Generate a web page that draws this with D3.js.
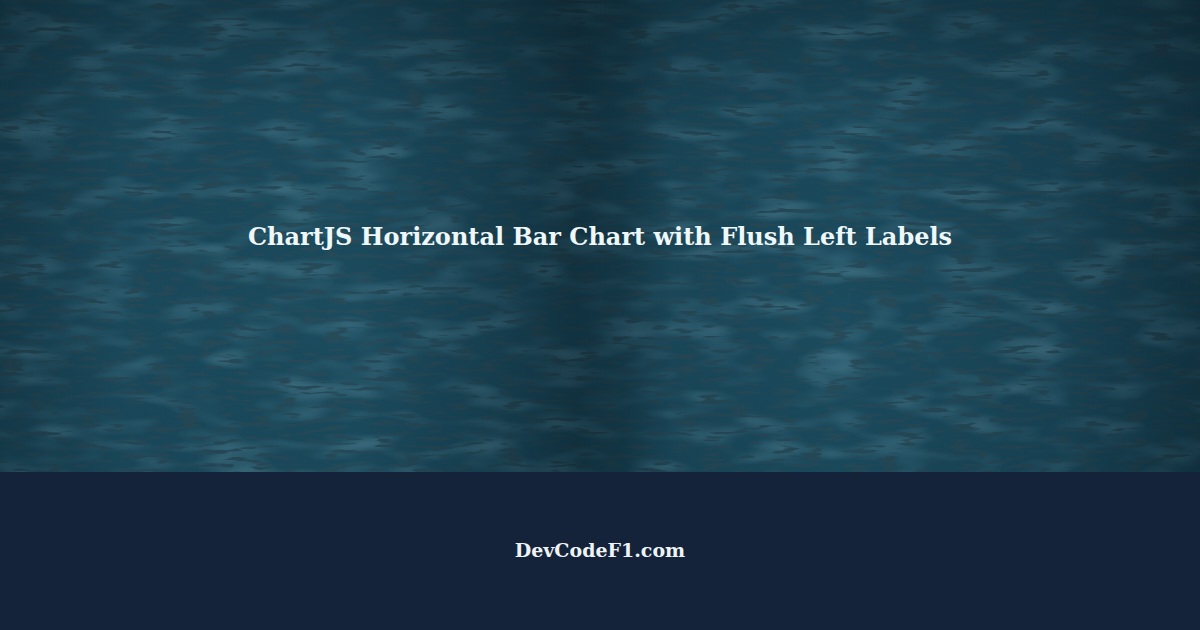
<!DOCTYPE html>
<html>
<head>
<meta charset="utf-8">
<script src="https://cdn.jsdelivr.net/npm/d3@7"></script>
<style>
  html, body { margin: 0; padding: 0; background: #15233a; }
  svg { display: block; }
</style>
</head>
<body>
<svg id="banner"></svg>
<script>
// Texts shown on the card
const titleLines = ["ChartJS Horizontal Bar Chart with Flush Left Labels"];
const footerLines = ["DevCodeF1.com"];

// Window dimensions
const width = 1200;
const height = 630;
const splitY = 472; // where the picture stops and the footer band begins

const svg = d3.select("#banner")
    .attr("width", width)
    .attr("height", height);

const defs = svg.append("defs");

// short dark horizontal dashes (the "fabric" texture)
const noise = defs.append("filter")
    .attr("id", "streaks")
    .attr("x", 0).attr("y", 0)
    .attr("width", "100%").attr("height", "100%");
noise.append("feTurbulence")
    .attr("type", "fractalNoise")
    .attr("baseFrequency", "0.04 0.22")
    .attr("numOctaves", 2)
    .attr("seed", 11)
    .attr("result", "t");
noise.append("feColorMatrix")
    .attr("in", "t")
    .attr("type", "matrix")
    .attr("values", "0 0 0 0 0.02  0 0 0 0 0.07  0 0 0 0 0.10  -8 0 0 0 3.7");

// soft lighter blotches
const speck = defs.append("filter")
    .attr("id", "speck")
    .attr("x", 0).attr("y", 0)
    .attr("width", "100%").attr("height", "100%");
speck.append("feTurbulence")
    .attr("type", "fractalNoise")
    .attr("baseFrequency", "0.015 0.05")
    .attr("numOctaves", 2)
    .attr("seed", 3)
    .attr("result", "t");
speck.append("feColorMatrix")
    .attr("in", "t")
    .attr("type", "matrix")
    .attr("values", "0 0 0 0 0.14  0 0 0 0 0.33  0 0 0 0 0.42  1.0 0 0 0 -0.45");

// horizontal shading: darker seam in the middle, darker edges
const shade = defs.append("linearGradient")
    .attr("id", "shadeX")
    .attr("x1", 0).attr("x2", 1).attr("y1", 0).attr("y2", 0);
[
  [0.00, 0.30], [0.10, 0.05], [0.30, 0.0], [0.42, 0.25],
  [0.48, 0.45], [0.52, 0.35], [0.56, 0.10], [0.70, 0.0], [0.88, 0.15], [1.00, 0.45]
].forEach(([o, a]) => shade.append("stop")
    .attr("offset", o).attr("stop-color", "#04121a").attr("stop-opacity", a));

const shadeY = defs.append("linearGradient")
    .attr("id", "shadeY")
    .attr("x1", 0).attr("x2", 0).attr("y1", 0).attr("y2", 1);
[[0, 0.30], [0.25, 0.05], [0.7, 0.0], [1, 0.05]]
    .forEach(([o, a]) => shadeY.append("stop")
        .attr("offset", o).attr("stop-color", "#04121a").attr("stop-opacity", a));

const picture = svg.append("g");
picture.append("rect")
    .attr("width", width).attr("height", splitY)
    .attr("fill", "#1b4b5e");
picture.append("rect")
    .attr("width", width).attr("height", splitY)
    .attr("filter", "url(#speck)");
picture.append("rect")
    .attr("width", width).attr("height", splitY)
    .attr("filter", "url(#streaks)");
picture.append("rect")
    .attr("width", width).attr("height", splitY)
    .attr("fill", "url(#shadeX)");
picture.append("rect")
    .attr("width", width).attr("height", splitY)
    .attr("fill", "url(#shadeY)");

// footer band
svg.append("rect")
    .attr("y", splitY)
    .attr("width", width).attr("height", height - splitY)
    .attr("fill", "#15233a");

svg.selectAll("text.title")
    .data(titleLines)
    .join("text")
    .attr("class", "title")
    .attr("x", width / 2)
    .attr("y", (d, i) => 245 + i * 30)
    .attr("text-anchor", "middle")
    .attr("font-family", "'DejaVu Serif', serif")
    .attr("font-weight", "bold")
    .attr("font-size", 24)
    .attr("fill", "#eef7fa")
    .text(d => d);

svg.selectAll("text.footer")
    .data(footerLines)
    .join("text")
    .attr("class", "footer")
    .attr("x", width / 2)
    .attr("y", 557)
    .attr("text-anchor", "middle")
    .attr("font-family", "'DejaVu Serif', serif")
    .attr("font-weight", "bold")
    .attr("font-size", 19)
    .attr("fill", "#eef4f6")
    .text(d => d);
</script>
</body>
</html>
